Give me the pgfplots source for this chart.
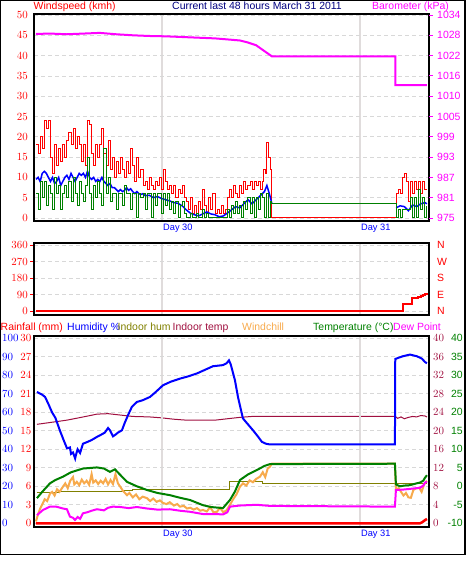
\documentclass[border=0pt]{standalone}
\usepackage{fontspec}
\setmainfont{Liberation Sans}
\usepackage{pgfplots}
\pgfplotsset{compat=1.18}
\definecolor{cRed}{RGB}{255,0,0}
\definecolor{cBlue}{RGB}{0,0,255}
\definecolor{cGreen}{RGB}{0,128,0}
\definecolor{cMag}{RGB}{255,0,255}
\definecolor{cOrange}{RGB}{247,170,76}
\definecolor{cMaroon}{RGB}{160,16,64}
\definecolor{cOlive}{RGB}{128,128,0}
\definecolor{cNavy}{RGB}{0,0,128}
\definecolor{cGrid}{RGB}{216,216,216}
\definecolor{cDay}{RGB}{224,220,220}
\newcommand{\tfont}{\fontsize{10.5}{12}\selectfont}
\pgfplotsset{
  mainp/.style={scale only axis, width=395bp, xmin=0, xmax=48,
    xtick={15.55,39.6}, xticklabels={}, xmajorgrids, ymajorgrids,
    x grid style={cDay,line width=2bp},
    y grid style={cGrid,dash pattern=on 4bp off 3bp,line width=0.8bp},
    axis line style={black,line width=1.3bp},
    major tick length=0pt, tick style={draw=none},
    tick label style={font=\tfont},
    yticklabel style={inner sep=0pt}},
  daylab/.style={xticklabels={Day 30,Day 31},
      xticklabel style={text=cBlue,anchor=north west,inner sep=0pt,xshift=1bp,yshift=-2.5bp,font=\fontsize{9.3}{11}\selectfont}},
  ovl/.style={scale only axis, width=395bp, xmin=0, xmax=48,
    axis x line=none, axis line style={draw=none},
    major tick length=0pt, tick style={draw=none},
    tick label style={font=\tfont}, yticklabel style={inner sep=0pt}},
}
\begin{document}
\begin{tikzpicture}
\path[use as bounding box] (0bp,0bp) rectangle (466bp,563bp);
% header top
\node[anchor=base west,inner sep=0pt,text=cRed,font=\tfont] at (33.5bp,553.5bp) {Windspeed (kmh)};
\node[anchor=base,inner sep=0pt,text=cNavy,font=\tfont] at (257bp,553.5bp) {Current last 48 hours March 31 2011};
\node[anchor=base west,inner sep=0pt,text=cMag,font=\tfont] at (372bp,553.5bp) {Barometer (kPa)};
% header bottom
\node[anchor=base west,inner sep=0pt,text=cRed,font=\tfont] at (0.5bp,232.3bp) {Rainfall (mm)};
\node[anchor=base west,inner sep=0pt,text=cBlue,font=\tfont] at (67bp,232.3bp) {Humidity \%};
\node[anchor=base west,inner sep=0pt,text=cOlive,font=\tfont] at (117.5bp,232.3bp) {Indoor hum};
\node[anchor=base west,inner sep=0pt,text=cMaroon,font=\tfont] at (172.5bp,232.3bp) {Indoor temp};
\node[anchor=base west,inner sep=0pt,text=cOrange,font=\tfont] at (242bp,232.3bp) {Windchill};
\node[anchor=base west,inner sep=0pt,text=cGreen,font=\tfont] at (313bp,232.3bp) {Temperature (°C)};
\node[anchor=base west,inner sep=0pt,text=cMag,font=\tfont] at (393bp,232.3bp) {Dew Point};

%================ TOP PANEL =================
\begin{axis}[mainp, daylab, at={(34bp,342bp)}, anchor=south west, height=207bp,
  ymin=-0.74, ymax=50.25, ytick={0,5,...,50},
  yticklabel style={text=cRed,anchor=east,xshift=-6bp}]
\addplot[cRed,line width=1bp,const plot] coordinates {
(0.24,18)(0.5,16)(0.75,20)(1.0,17)(1.25,24)(1.5,22)(1.75,24)(2.0,15)(2.25,11)(2.5,18)(2.75,13)(3.0,17)(3.25,14)(3.5,18)(3.75,15)(4.0,19)(4.25,21)(4.5,18)(4.75,22)(5.0,17)(5.25,20)(5.5,18)(5.75,14)(6.0,18)(6.25,13)(6.5,24)(6.75,23)(7.0,16)(7.25,13)(7.5,18)(7.75,15)(8.0,18)(8.25,22)(8.5,16)(8.75,13)(9.0,19)(9.25,12)(9.5,15)(9.75,10)(10.0,14)(10.25,11)(10.5,15)(10.75,12)(11.0,10)(11.25,14)(11.5,11)(11.75,17)(12.0,13)(12.25,9)(12.5,15)(12.75,10)(13.0,12)(13.25,8)(13.5,9)(13.75,7)(14.0,10)(14.25,8)(14.5,7)(14.75,9)(15.0,8)(15.25,10)(15.5,7)(15.75,12)(16.0,9)(16.25,7)(16.5,8)(16.75,6)(17.0,8)(17.25,5)(17.5,7)(17.75,6)(18.0,8)(18.25,5)(18.5,4)(18.75,2)(19.0,5)(19.25,1)(19.5,3)(19.75,1)(20.0,4)(20.25,2)(20.5,7)(20.75,3)(21.0,1)(21.25,5)(21.5,2)(21.75,6)(22.0,1)(22.25,2)(22.5,1)(22.75,3)(23.0,1)(23.25,2)(23.5,5)(23.75,7)(24.0,5)(24.25,8)(24.5,6)(24.75,5)(25.0,8)(25.25,6)(25.5,9)(25.75,7)(26.0,8)(26.25,9)(26.5,7)(26.75,9)(27.0,8)(27.25,9)(27.5,7)(27.75,9)(27.9,12)(28.1,11)(28.3,18.5)(28.5,15)(28.7,12)(28.9,0)(44.0,6)(44.25,7)(44.5,6)(44.75,10)(45.0,11)(45.25,9)(45.5,4)(45.75,9)(46.0,6)(46.25,9)(46.5,7)(46.75,9)(47.0,6)(47.25,9)(47.5,7)(47.75,7)};
\addplot[cBlue,line width=1.5bp] coordinates {
(0.24,9.5)(0.5,10)(0.75,9)(1.0,11)(1.25,11.5)(1.5,11)(1.75,10)(2.0,9)(2.25,10)(2.5,8.5)(2.75,9)(3.0,10)(3.25,8)(3.5,9)(3.75,10)(4.0,10.5)(4.25,9.5)(4.5,11)(4.75,10)(5.0,9)(5.25,10)(5.5,11)(5.75,10.5)(6.0,11)(6.25,10)(6.5,11.5)(6.75,10)(7.0,9.5)(7.25,10)(7.5,9)(7.75,9.5)(8.0,9)(8.25,10)(8.5,9)(8.75,8.5)(9.0,8)(9.25,8.5)(9.5,7.5)(9.75,7.5)(10.0,7)(10.25,6.5)(10.5,7)(10.75,6.5)(11.0,6.8)(11.25,7.5)(11.5,6.8)(11.75,7.2)(12.0,6.5)(12.25,6)(12.5,6.5)(12.75,6)(13.0,5.8)(13.25,6)(13.5,5.5)(14,5.6)(14.5,5)(15,5.3)(15.5,4.8)(16,4.5)(16.5,4.2)(17,3.8)(17.5,3.6)(18,3)(18.5,2)(19,1.2)(19.5,0.8)(20,0.5)(20.5,1)(21,1.5)(21.5,1)(22,0.8)(22.5,0.3)(23,0.5)(23.5,1.2)(24,2)(24.5,2.8)(25,2.5)(25.5,3.5)(26,4.5)(26.5,3.5)(27,4.5)(27.5,5.5)(28,6.5)(28.3,8)(28.6,6)(28.9,3.6)};
\addplot[cBlue,line width=1.5bp] coordinates {
(44.0,2.5)(44.5,3)(45,2.8)(45.5,1.8)(46,3.2)(46.5,2.8)(47,3.5)(47.5,3.8)(47.75,3.5)};
\addplot[cGreen,line width=1bp,const plot] coordinates {
(0.24,6)(0.5,2)(0.75,9)(1.0,5)(1.25,9)(1.5,3)(1.75,8)(2.0,6)(2.25,2)(2.5,10)(2.75,6)(3.0,8)(3.25,2)(3.5,6)(3.75,8)(4.0,5)(4.25,9)(4.5,4)(4.75,10)(5.0,6)(5.25,3)(5.5,9)(5.75,6)(6.0,4)(6.25,8)(6.5,14.8)(6.75,6)(7.0,2)(7.25,8)(7.5,5)(7.75,9)(8.0,6)(8.25,3)(8.5,17)(8.75,6)(9.0,10)(9.25,4)(9.5,6)(9.75,6)(10.0,2)(10.25,6)(10.5,6)(10.75,3)(11.0,8)(11.25,6)(11.5,6)(11.75,2)(12.0,6)(12.25,6)(12.5,0)(12.75,6)(13.0,5)(13.25,6)(13.5,2)(13.75,6)(14.0,6)(14.25,0)(14.5,6)(14.75,3)(15.0,6)(15.25,6)(15.5,1)(15.75,6)(16.0,3)(16.25,6)(16.5,2)(16.75,4)(17.0,1)(17.25,4)(17.5,0)(17.75,3)(18.0,4)(18.25,1)(18.5,0)(19.0,1)(19.25,0)(19.75,1)(20.0,0)(20.5,2)(20.75,0)(21.0,1)(21.25,0)(23.5,2)(23.75,0)(24.0,3)(24.25,1)(24.5,4)(24.75,1)(25.0,3)(25.25,0)(25.5,4)(25.75,2)(26.0,5)(26.25,1)(26.5,5)(26.75,0)(27.0,5)(27.25,2)(27.5,6)(27.75,5)(28.0,0)(28.25,6)(28.5,0)(28.75,4)(28.9,3.6)(44.0,0)(44.25,2)(44.5,0)(44.75,2)(45.75,5)(46.0,0)(46.25,5)(46.5,0)(46.75,7)(47.0,2)(47.25,5)(47.5,0)(47.75,3)};
\end{axis}
\begin{axis}[ovl, at={(34bp,342bp)}, anchor=south west, height=207bp,
  axis y line*=right, ymin=974.13, ymax=1034.29,
  ytick={975,980.9,986.8,992.7,998.6,1004.5,1010.4,1016.3,1022.2,1028.1,1034},
  yticklabels={975,981,987,993,999,1005,1010,1016,1022,1028,1034},
  major tick length=4bp, tick align=outside, ytick style={draw=cMag,line width=0.8bp},
  yticklabel style={text=cMag,anchor=west,xshift=4bp}]
\addplot[cMag,line width=2bp] coordinates {
(0.24,1028.5)(2,1028.6)(4,1028.4)(6,1028.6)(8,1028.8)(10,1028.4)(12,1028.1)(14,1027.9)(16,1027.8)(18,1027.6)(20,1027.4)(22,1027.2)(24,1026.8)(25,1026.6)(26,1026.0)(27,1025.2)(28,1023.5)(28.9,1022.0)(43.9,1022.0)(43.9,1013.6)(47.75,1013.6)};
\end{axis}

%================ MIDDLE PANEL =================
\begin{axis}[mainp, at={(34bp,248bp)}, anchor=south west, height=72bp,
  ymin=-21.8, ymax=370.9, ytick={0,90,180,270,360},
  ytick pos=left, major tick length=4bp, tick align=outside,
  ytick style={draw=cRed,line width=0.8bp},
  yticklabel style={text=cRed,anchor=east,xshift=-2bp}]
\addplot[cRed,line width=2bp,const plot] coordinates {
(0.24,0)(44.9,38)(45.9,69)(46.5,70)(46.7,75)(47.0,80)(47.3,85)(47.5,92)(47.75,98)};
\end{axis}
\begin{axis}[ovl, at={(34bp,248bp)}, anchor=south west, height=72bp,
  axis y line*=right, ymin=-21.8, ymax=370.9, ytick={0,90,180,270,360},
  yticklabels={N,E,S,W,N}, yticklabel style={text=cRed,anchor=west,xshift=8bp}]
\addplot[draw=none] coordinates {(0,0)};
\end{axis}

%================ BOTTOM PANEL =================
\begin{axis}[ovl, at={(34bp,36bp)}, anchor=south west, height=191bp,
  axis y line*=right, ymin=-0.81, ymax=40.5, ytick={0,4,...,40},
  yticklabel style={text=cMaroon,anchor=west,xshift=4bp}]
\addplot[cMaroon,line width=1bp] coordinates {
(0.36,21.4)(2,21.8)(4,22.3)(6,23.0)(7.65,23.6)(9,23.7)(10.5,23.4)(12,23.1)(14,23.0)(15.5,22.8)(17,22.5)(18.5,22.3)(20,22.3)(22,22.3)(23.5,22.6)(25,22.9)(26.5,23.1)(28.67,23.1)(43.9,23.1)(44.2,22.7)(44.6,23.0)(45.0,22.6)(45.5,22.9)(46,23.1)(46.5,23.0)(47,23.3)(47.5,23.2)(47.75,23.0)};
\end{axis}
\begin{axis}[mainp, daylab, at={(34bp,36bp)}, anchor=south west, height=191bp,
  ymin=-2, ymax=101.24, ytick={0,10,...,100},
  yticklabel style={text=cBlue,anchor=west,xshift=-32bp}]
\addplot[cOlive,line width=1bp,const plot] coordinates {
(0.36,16.5)(3,17)(8,17.2)(11,17.5)(12,18)(23.8,22.5)(27.8,21.5)(43.9,21.5)(47.75,21.5)};
\addplot[cBlue,line width=2bp] coordinates {
(0.36,71)(1.0,69.5)(1.34,68.3)(1.7,65)(2.19,60)(2.6,57)(3.16,50)(3.6,45)(4.01,40.5)(4.37,41)(4.5,37.5)(4.74,38.3)(5.0,35)(5.1,37)(5.3,40)(5.6,38)(5.95,43)(6.5,44)(7.0,45)(7.65,46.7)(8.2,48)(8.6,49)(9.0,51.5)(9.23,50.3)(9.6,47)(9.84,47.7)(10.2,49)(10.69,50.3)(11.0,54)(11.42,58.4)(11.9,63)(12.51,65.6)(13.2,66.5)(14.09,68.3)(14.8,71)(15.67,74.6)(16.6,76.5)(17.74,78.2)(18.8,79.5)(19.8,81)(20.8,83)(21.75,84.9)(22.96,85.5)(23.4,86.5)(23.69,88.1)(23.9,86)(24.42,77.3)(24.8,68)(25.39,56.7)(25.9,54)(26.61,50.3)(27.2,47)(27.7,44)(28.2,43)(28.67,42.6)(43.86,42.6)(43.9,88.8)(44.3,89.5)(44.83,90.3)(45.68,91.2)(46.53,90.3)(47.14,89)(47.51,87.2)(47.75,86.5)};
\end{axis}
\begin{axis}[ovl, at={(34bp,36bp)}, anchor=south west, height=191bp,
  axis y line*=right, ymin=-11, ymax=40.62, ytick={-10,-5,...,40},
  yticklabels={-10,-5,0,5,10,15,20,25,30,35,40},
  yticklabel style={text=cGreen,anchor=east,xshift=34bp}]
\addplot[cOrange,line width=2bp] coordinates {
(0.24,-9.5)(0.5,-7.5)(0.75,-6)(1.09,-4.5)(1.3,-3.5)(1.6,-4)(1.94,-2)(2.2,-1.5)(2.5,-2.5)(2.8,-0.8)(3.1,-1.5)(3.52,-0.1)(3.8,0.8)(4.1,-0.5)(4.4,1.5)(4.74,2.5)(4.9,0.5)(5.2,1.2)(5.5,0.3)(5.8,1.8)(6.1,0.8)(6.4,1.5)(6.7,0.4)(7.0,3.3)(7.2,1.0)(7.5,1.6)(7.8,0.6)(8.1,1.5)(8.4,0.8)(8.7,2.0)(9.0,0.5)(9.3,1.7)(9.6,0.6)(9.9,3.3)(10.2,0.8)(10.45,0)(10.8,-1.2)(11.3,-2.4)(11.6,-1.8)(12,-3)(12.4,-2.2)(12.8,-3.5)(13.2,-2.8)(13.73,-3.2)(14.1,-4)(14.5,-3.3)(14.9,-4.2)(15.3,-3.8)(15.67,-4.5)(16.1,-4.8)(16.5,-4.3)(17,-5.2)(17.4,-4.8)(17.74,-5.5)(18.2,-5.3)(18.6,-6)(19,-5.8)(19.4,-6.3)(19.8,-5.9)(20.2,-6.6)(20.53,-6.4)(21,-6.8)(21.4,-5.6)(21.8,-7)(22.23,-6.9)(22.6,-5.8)(23,-7)(23.4,-6.5)(23.81,-5)(24.2,-3.5)(24.6,-2.2)(25.03,-0.1)(25.4,0.8)(25.8,0.2)(26.2,1.6)(26.6,1.1)(27.0,2.0)(27.46,2.6)(27.8,3.8)(28.1,2.5)(28.4,4.8)(28.67,5.3)(28.9,6.1)(43.86,6.1)(43.98,-1)(44.3,-0.5)(44.6,-1.5)(44.9,-2.5)(45.2,-1.8)(45.5,-3.0)(45.8,-3.1)(46.1,-1.0)(46.4,-0.6)(46.8,-0.4)(47.1,-1.5)(47.4,0.5)(47.75,1.5)};
\addplot[cMag,line width=2bp] coordinates {
(0.36,-7.8)(1.09,-6.4)(1.94,-5.5)(2.7,-5.5)(3.52,-6)(4.0,-6.2)(4.37,-8.2)(4.74,-8.5)(4.98,-9.1)(5.3,-8.3)(5.6,-8.8)(5.95,-7.3)(6.5,-7)(7.0,-6.6)(7.65,-6.2)(8.5,-6.5)(9.0,-5.8)(9.6,-5.5)(10.5,-5.6)(11.5,-5.9)(12.5,-5.6)(13.73,-6)(15,-6.3)(16.5,-6.2)(17.74,-6.6)(19,-6.9)(20.53,-7.5)(22,-7.5)(22.96,-7.6)(23.5,-7)(23.81,-5.5)(25,-5.2)(26,-5.1)(27.09,-5)(28.67,-5.3)(43.86,-5.5)(43.98,-1)(44.8,-0.9)(45.68,-0.7)(46.5,-0.5)(46.9,-0.4)(47.3,0.2)(47.51,1)(47.75,1.2)};
\addplot[cGreen,line width=2bp] coordinates {
(0.36,-3.2)(1,-1.5)(1.94,0.8)(2.6,1.7)(3.52,2.6)(4.5,3.8)(5.95,4.8)(7.65,5.1)(8.5,4.8)(9.23,3.9)(9.84,4.6)(10.3,3.5)(11.3,1.2)(12.5,0)(13.73,-1)(15,-1.8)(16.52,-2.4)(17.74,-3.1)(18.95,-3.7)(20.53,-5.1)(21.5,-5.6)(22.96,-5.9)(23.81,-3.7)(24.4,-1.5)(25.03,1.7)(26,3.2)(27.09,4.4)(28,5.5)(28.67,6)(43.86,6.1)(43.98,0.5)(44.47,0)(45,0.2)(45.68,0.3)(46.5,0.8)(46.9,1.0)(47.3,1.5)(47.51,2.3)(47.75,3)};
\end{axis}
\begin{axis}[ovl, at={(34bp,36bp)}, anchor=south west, height=191bp,
  axis y line*=left, ymin=-0.6, ymax=30.37, ytick={0,3,...,30},
  yticklabel style={text=cRed,anchor=east,xshift=-2.5bp}]
\addplot[cRed,line width=2.5bp] coordinates {
(0.24,0)(46.9,0)(47.2,0.2)(47.5,0.5)(47.75,0.7)};
\end{axis}
\draw[black,line width=1.2bp] (0.6bp,8.6bp) rectangle (465bp,562.4bp);
\end{tikzpicture}
\end{document}
